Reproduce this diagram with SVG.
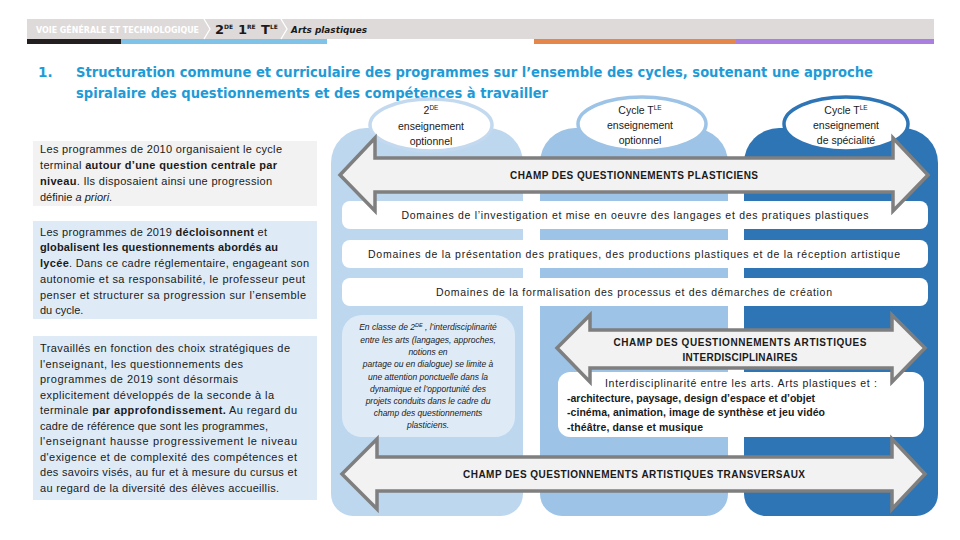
<svg xmlns="http://www.w3.org/2000/svg" width="960" height="540" viewBox="0 0 960 540">
<defs>
<style>
.hdr{font-family:"DejaVu Sans","Liberation Sans",sans-serif;font-weight:bold}
.ttl{font-family:"DejaVu Sans","Liberation Sans",sans-serif;font-weight:bold;font-size:13.5px;fill:#1e9bd7}
.lt{font-family:"Liberation Sans","Open Sans",sans-serif;font-size:11px;fill:#1a1a1a}
.ov{font-family:"Liberation Sans","Open Sans",sans-serif;font-size:10.5px;fill:#1a1a1a;text-anchor:middle}
.bar{font-family:"Liberation Sans","Open Sans",sans-serif;font-size:10.5px;fill:#1a1a1a;text-anchor:middle}
.arl{font-family:"Liberation Sans","Open Sans",sans-serif;font-size:10px;font-weight:bold;fill:#1a1a1a;text-anchor:middle}
.it{font-family:"Liberation Sans","Open Sans",sans-serif;font-size:8.5px;font-style:italic;fill:#1a1a1a;text-anchor:middle}
.bx{font-family:"Liberation Sans","Open Sans",sans-serif;font-size:10.5px;fill:#1a1a1a}
.arrow{fill:#f2f2f2;stroke:#7f7f7f;stroke-width:3.5;stroke-linejoin:miter}
.wbar{fill:#ffffff}
</style>
</defs>
<rect width="960" height="540" fill="#ffffff"/>

<g id="header">
<rect x="27" y="19" width="907" height="20" fill="#dedad9"/>
<rect x="27" y="39" width="94" height="5" fill="#231f20"/>
<rect x="121" y="39" width="206" height="5" fill="#7fc3e8"/>
<rect x="534" y="39" width="202" height="5" fill="#e5874a"/>
<rect x="736" y="39" width="198" height="5" fill="#a97fdf"/>
<text class="hdr" x="36" y="32.5" font-size="8" fill="#ffffff" textLength="163" lengthAdjust="spacingAndGlyphs">VOIE GÉNÉRALE ET TECHNOLOGIQUE</text>
<polyline points="204,19 210,29 204,39" fill="none" stroke="#ffffff" stroke-width="1.3"/>
<text class="hdr" fill="#1a1a1a"><tspan x="215" y="34" font-size="13">2</tspan><tspan x="224" y="29" font-size="6">DE</tspan><tspan x="238" y="34" font-size="13">1</tspan><tspan x="247" y="29" font-size="6">RE</tspan><tspan x="261" y="34" font-size="13">T</tspan><tspan x="270" y="29" font-size="6">LE</tspan></text>
<polyline points="281,19 287,29 281,39" fill="none" stroke="#ffffff" stroke-width="1.3"/>
<text class="hdr" x="291" y="33" font-size="9.5" font-style="italic" fill="#1a1a1a" textLength="76" lengthAdjust="spacingAndGlyphs">Arts plastiques</text>
</g>

<g id="title">
<text class="ttl" x="38" y="77">1.</text>
<text class="ttl" x="76" y="77" textLength="797" lengthAdjust="spacingAndGlyphs">Structuration commune et curriculaire des programmes sur l’ensemble des cycles, soutenant une approche</text>
<text class="ttl" x="76" y="98" textLength="472" lengthAdjust="spacingAndGlyphs">spiralaire des questionnements et des compétences à travailler</text>
</g>

<g id="box-2010">
<rect x="33" y="141" width="284" height="65" fill="#f2f2f2"/>
<text class="lt" x="40" y="153" textLength="242">Les programmes de 2010 organisaient le cycle</text>
<text class="lt" x="40" y="169" textLength="237">terminal <tspan font-weight="bold">autour d’une question centrale par</tspan></text>
<text class="lt" x="40" y="185" textLength="232"><tspan font-weight="bold">niveau</tspan>. Ils disposaient ainsi une progression</text>
<text class="lt" x="40" y="201">définie <tspan font-style="italic">a priori</tspan>.</text>
</g>

<g id="box-2019">
<rect x="33" y="221" width="284" height="98" fill="#deebf7"/>
<text class="lt" x="40" y="236" textLength="227">Les programmes de 2019 <tspan font-weight="bold">décloisonnent</tspan> et</text>
<text class="lt" x="40" y="251" textLength="238" font-weight="bold">globalisent les questionnements abordés au</text>
<text class="lt" x="40" y="267" textLength="269"><tspan font-weight="bold">lycée</tspan>. Dans ce cadre réglementaire, engageant son</text>
<text class="lt" x="40" y="283" textLength="265">autonomie et sa responsabilité, le professeur peut</text>
<text class="lt" x="40" y="299" textLength="266">penser et structurer sa progression sur l’ensemble</text>
<text class="lt" x="40" y="314">du cycle.</text>
</g>

<g id="box-approfondissement">
<rect x="33" y="336" width="284" height="164" fill="#deebf7"/>
<text class="lt" x="40" y="352" textLength="250">Travaillés en fonction des choix stratégiques de</text>
<text class="lt" x="40" y="368" textLength="203">l'enseignant, les questionnements des</text>
<text class="lt" x="40" y="383" textLength="198">programmes de 2019 sont désormais</text>
<text class="lt" x="40" y="399" textLength="234">explicitement développés de la seconde à la</text>
<text class="lt" x="40" y="414" textLength="257">terminale <tspan font-weight="bold">par approfondissement.</tspan> Au regard du</text>
<text class="lt" x="40" y="430" textLength="228">cadre de référence que sont les programmes,</text>
<text class="lt" x="40" y="445" textLength="257">l'enseignant hausse progressivement le niveau</text>
<text class="lt" x="40" y="461" textLength="257">d'exigence et de complexité des compétences et</text>
<text class="lt" x="40" y="476" textLength="257">des savoirs visés, au fur et à mesure du cursus et</text>
<text class="lt" x="40" y="492" textLength="239">au regard de la diversité des élèves accueillis.</text>
</g>

<g id="col-2de">
<path d="M331,163 A35,35 0 0 1 366,128 H488 A35,35 0 0 1 523,163 V494 A22,22 0 0 1 501,516 H353 A22,22 0 0 1 331,494 Z" fill="#bdd7ee"/>
<ellipse cx="431" cy="125" rx="61" ry="26" fill="#ffffff" stroke="#c3d9ef" stroke-width="3.5"/>
<text class="ov" x="431" y="114">2<tspan dy="-4" font-size="6.5">DE</tspan></text>
<text class="ov" x="431" y="130">enseignement</text>
<text class="ov" x="431" y="145">optionnel</text>
</g>

<g id="col-tle-optionnel">
<path d="M540,163 A35,35 0 0 1 575,128 H693 A35,35 0 0 1 728,163 V494 A22,22 0 0 1 706,516 H562 A22,22 0 0 1 540,494 Z" fill="#9dc3e6"/>
<ellipse cx="642" cy="124" rx="64" ry="27" fill="#ffffff" stroke="#9dc3e6" stroke-width="3.5"/>
<text class="ov" x="640" y="114">Cycle T<tspan dy="-4" font-size="6.5">LE</tspan></text>
<text class="ov" x="640" y="129">enseignement</text>
<text class="ov" x="640" y="144">optionnel</text>
</g>

<g id="col-tle-specialite">
<path d="M744,163 A35,35 0 0 1 779,128 H903 A35,35 0 0 1 938,163 V494 A22,22 0 0 1 916,516 H766 A22,22 0 0 1 744,494 Z" fill="#2e75b6"/>
<ellipse cx="846" cy="124" rx="62" ry="27" fill="#ffffff" stroke="#2e75b6" stroke-width="3.5"/>
<text class="ov" x="846" y="114">Cycle T<tspan dy="-4" font-size="6.5">LE</tspan></text>
<text class="ov" x="846" y="129">enseignement</text>
<text class="ov" x="846" y="144">de spécialité</text>
</g>

<g id="domaine-investigation">
<rect class="wbar" x="342" y="201" width="586" height="28" rx="8"/>
<text class="bar" x="635" y="219" textLength="467">Domaines de l’investigation et mise en oeuvre des langages et des pratiques plastiques</text>
</g>
<g id="domaine-presentation">
<rect class="wbar" x="342" y="240" width="586" height="28" rx="8"/>
<text class="bar" x="634" y="258" textLength="532">Domaines de la présentation des pratiques, des productions plastiques et de la réception artistique</text>
</g>
<g id="domaine-formalisation">
<rect class="wbar" x="342" y="278" width="586" height="28" rx="8"/>
<text class="bar" x="634" y="296" textLength="396">Domaines de la formalisation des processus et des démarches de création</text>
</g>

<g id="note-2de">
<rect x="342" y="315" width="173" height="122" rx="20" fill="#deebf7"/>
<text class="it" x="428" y="330">En classe de 2<tspan dy="-3" font-size="5.5">DE</tspan><tspan dy="3"> , l’interdisciplinarité</tspan></text>
<text class="it" x="428" y="343">entre les arts (langages, approches,</text>
<text class="it" x="428" y="355">notions en</text>
<text class="it" x="428" y="367">partage ou en dialogue) se limite à</text>
<text class="it" x="428" y="380">une attention ponctuelle dans la</text>
<text class="it" x="428" y="392">dynamique et l’opportunité des</text>
<text class="it" x="428" y="404">projets conduits dans le cadre du</text>
<text class="it" x="428" y="416">champ des questionnements</text>
<text class="it" x="428" y="428">plasticiens.</text>
</g>

<g id="interdisciplinarite">
<rect x="558" y="372" width="366" height="65" rx="12" fill="#ffffff"/>
<text class="bx" x="741" y="387" text-anchor="middle" textLength="272">Interdisciplinarité entre les arts. Arts plastiques et :</text>
<text class="bx" x="567" y="402" font-weight="bold" textLength="248">-architecture, paysage, design d’espace et d’objet</text>
<text class="bx" x="567" y="416" font-weight="bold" textLength="258">-cinéma, animation, image de synthèse et jeu vidéo</text>
<text class="bx" x="567" y="431" font-weight="bold" textLength="136">-théâtre, danse et musique</text>
</g>

<g id="connectors">
<g id="champ-plasticiens">
<polygon class="arrow" points="340,175 375,138 375,158 893,158 893,138 928,175 893,211 893,192 375,192 375,211"/>
<text class="arl" x="634" y="179" textLength="248">CHAMP DES QUESTIONNEMENTS PLASTICIENS</text>
</g>
<g id="champ-interdisciplinaires">
<polygon class="arrow" points="557,348 590,315 590,330 892,330 892,315 925,348 892,382 892,368 590,368 590,382"/>
<text class="arl" x="740" y="346" textLength="253">CHAMP DES QUESTIONNEMENTS ARTISTIQUES</text>
<text class="arl" x="740" y="361" textLength="115">INTERDISCIPLINAIRES</text>
</g>
<g id="champ-transversaux">
<polygon class="arrow" points="342,474 377,439 377,457 892,457 892,439 925,474 892,509 892,491 377,491 377,509"/>
<text class="arl" x="634" y="478" textLength="342">CHAMP DES QUESTIONNEMENTS ARTISTIQUES TRANSVERSAUX</text>
</g>
</g>
</svg>
